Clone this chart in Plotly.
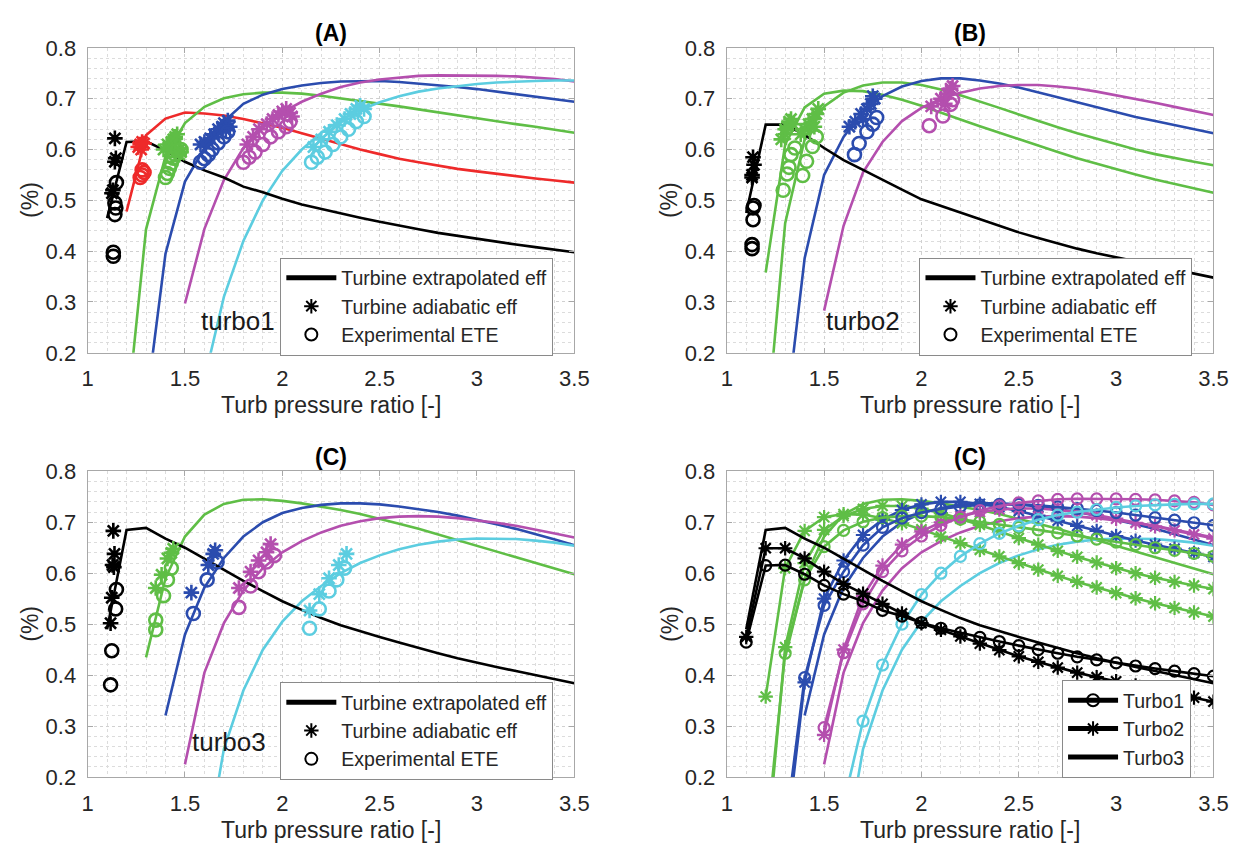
import plotly.graph_objects as go

FONT = "Liberation Sans, Arial, Helvetica, sans-serif"
TXT = "#262626"

# Pressure-ratio grid on which the efficiency curves are sampled
PR = [1.1, 1.2, 1.3, 1.4, 1.5, 1.6, 1.7, 1.8, 1.9, 2.0, 2.1, 2.2, 2.3,
      2.4, 2.5, 2.6, 2.7, 2.8, 2.9, 3.0, 3.1, 3.2, 3.3, 3.4, 3.5]

# ---- Turbo1 efficiency curves (each list ends at PR = 3.5) ----
t1_black = [0.465, 0.615, 0.616, 0.598, 0.576, 0.559, 0.545, 0.527, 0.516, 0.503,
            0.492, 0.483, 0.474, 0.466, 0.458, 0.450, 0.443, 0.436, 0.430, 0.424,
            0.418, 0.413, 0.408, 0.403, 0.398]
t1_red = [0.478, 0.628, 0.661, 0.673, 0.671, 0.667, 0.660, 0.652, 0.643, 0.632,
          0.621, 0.610, 0.600, 0.591, 0.582, 0.575, 0.568, 0.562, 0.557, 0.552,
          0.547, 0.543, 0.539, 0.535]
t1_green = [0.069, 0.443, 0.587, 0.652, 0.684, 0.701, 0.709, 0.712, 0.712, 0.710,
            0.706, 0.701, 0.696, 0.690, 0.685, 0.679, 0.673, 0.667, 0.661, 0.656,
            0.650, 0.645, 0.639, 0.633]
t1_blue = [0.094, 0.395, 0.537, 0.603, 0.655, 0.690, 0.708, 0.719, 0.726, 0.731,
           0.734, 0.735, 0.735, 0.733, 0.730, 0.727, 0.723, 0.719, 0.714, 0.709,
           0.704, 0.699, 0.694]
t1_magenta = [0.297, 0.444, 0.540, 0.603, 0.644, 0.673, 0.694, 0.710, 0.723, 0.732,
              0.738, 0.742, 0.745, 0.746, 0.746, 0.746, 0.745, 0.744, 0.742, 0.739,
              0.734]
t1_cyan = [0.148, 0.310, 0.420, 0.500, 0.558, 0.600, 0.633, 0.658, 0.678, 0.693,
           0.705, 0.714, 0.720, 0.725, 0.729, 0.732, 0.734, 0.735, 0.736, 0.736]

# ---- Turbo2 efficiency curves ----
t2_black = [0.475, 0.649, 0.649, 0.629, 0.603, 0.579, 0.560, 0.540, 0.521, 0.502,
            0.489, 0.476, 0.462, 0.449, 0.437, 0.426, 0.415, 0.405, 0.396, 0.388,
            0.380, 0.372, 0.364, 0.356, 0.348]
t2_green_a = [0.358, 0.610, 0.683, 0.710, 0.716, 0.715, 0.708, 0.698, 0.686, 0.672,
              0.659, 0.646, 0.633, 0.620, 0.607, 0.595, 0.583, 0.572, 0.561, 0.551,
              0.541, 0.532, 0.523, 0.515]
t2_green_b = [0.030, 0.455, 0.620, 0.685, 0.712, 0.726, 0.732, 0.732, 0.727, 0.718,
              0.707, 0.695, 0.682, 0.669, 0.656, 0.644, 0.632, 0.621, 0.610, 0.600,
              0.591, 0.583, 0.576, 0.569]
t2_blue = [0.060, 0.386, 0.550, 0.625, 0.675, 0.705, 0.724, 0.735, 0.740, 0.740,
           0.736, 0.730, 0.722, 0.713, 0.703, 0.693, 0.683, 0.673, 0.664, 0.656,
           0.648, 0.640, 0.632]
t2_magenta = [0.283, 0.450, 0.555, 0.615, 0.656, 0.682, 0.700, 0.712, 0.720, 0.725,
              0.727, 0.727, 0.724, 0.720, 0.714, 0.707, 0.699, 0.692, 0.684, 0.676,
              0.668]

# ---- Turbo3 efficiency curves ----
t3_black = [0.490, 0.685, 0.689, 0.668, 0.650, 0.628, 0.606, 0.585, 0.565, 0.545,
            0.528, 0.512, 0.498, 0.486, 0.475, 0.464, 0.453, 0.443, 0.433, 0.424,
            0.416, 0.408, 0.400, 0.392, 0.384]
t3_green = [0.435, 0.590, 0.672, 0.715, 0.736, 0.744, 0.745, 0.742, 0.737, 0.731,
            0.724, 0.716, 0.707, 0.697, 0.687, 0.676, 0.665, 0.654, 0.642, 0.631,
            0.620, 0.609, 0.598]
t3_blue = [0.321, 0.480, 0.572, 0.630, 0.672, 0.700, 0.718, 0.728, 0.734, 0.737,
           0.737, 0.735, 0.731, 0.726, 0.720, 0.713, 0.705, 0.696, 0.687, 0.677,
           0.666, 0.655]
t3_magenta = [0.225, 0.405, 0.502, 0.566, 0.610, 0.641, 0.663, 0.680, 0.693, 0.702,
              0.708, 0.711, 0.712, 0.711, 0.708, 0.704, 0.699, 0.693, 0.686, 0.678,
              0.670]
t3_cyan = [0.035, 0.255, 0.370, 0.450, 0.505, 0.545, 0.575, 0.600, 0.620, 0.635,
           0.647, 0.656, 0.662, 0.666, 0.668, 0.668, 0.667, 0.664, 0.660, 0.654]

# ---- Measured points: turbine adiabatic efficiency (asterisks) ----
t1_adiab_x = [1.14, 1.145, 1.14, 1.13, 1.125,
              1.26, 1.27, 1.275, 1.28, 1.29,
              1.39, 1.41, 1.42, 1.43, 1.44, 1.45, 1.46, 1.47, 1.48, 1.47,
              1.58, 1.60, 1.63, 1.65, 1.67, 1.69, 1.70, 1.72, 1.73, 1.71,
              1.82, 1.85, 1.88, 1.92, 1.95, 1.98, 2.00, 2.02, 2.04, 2.05,
              2.16, 2.20, 2.24, 2.28, 2.32, 2.35, 2.38, 2.40, 2.42]
t1_adiab_y = [0.622, 0.583, 0.576, 0.520, 0.514,
              0.605, 0.610, 0.600, 0.615, 0.612,
              0.600, 0.610, 0.598, 0.615, 0.620, 0.625, 0.630, 0.600, 0.595, 0.590,
              0.610, 0.615, 0.622, 0.630, 0.640, 0.645, 0.652, 0.657, 0.645, 0.638,
              0.610, 0.625, 0.640, 0.650, 0.660, 0.668, 0.675, 0.680, 0.672, 0.665,
              0.605, 0.620, 0.635, 0.648, 0.660, 0.670, 0.680, 0.686, 0.680]
t1_adiab_c = ["k"] * 5 + ["r"] * 5 + ["g"] * 10 + ["b"] * 10 + ["m"] * 10 + ["c"] * 9

t2_adiab_x = [1.135, 1.14, 1.13, 1.13,
              1.28, 1.30, 1.31, 1.32, 1.33, 1.34, 1.30, 1.38, 1.40, 1.42, 1.44, 1.46, 1.47, 1.45,
              1.63, 1.66, 1.69, 1.72, 1.74, 1.76, 1.75, 1.70,
              2.05, 2.10, 2.13, 2.15, 2.16, 2.12]
t2_adiab_y = [0.585, 0.570, 0.550, 0.545,
              0.620, 0.630, 0.645, 0.655, 0.660, 0.650, 0.640, 0.630, 0.640, 0.650, 0.660, 0.670, 0.680, 0.645,
              0.645, 0.655, 0.670, 0.680, 0.690, 0.700, 0.705, 0.660,
              0.685, 0.700, 0.710, 0.720, 0.725, 0.690]
t2_adiab_c = ["k"] * 4 + ["g"] * 14 + ["b"] * 8 + ["m"] * 6

t3_adiab_x = [1.132, 1.138, 1.128, 1.135, 1.124, 1.118,
              1.35, 1.38, 1.41, 1.43, 1.44,
              1.533, 1.62, 1.645, 1.655,
              1.777, 1.837, 1.878, 1.919, 1.94,
              2.14, 2.19, 2.24, 2.29, 2.33]
t3_adiab_y = [0.683, 0.638, 0.616, 0.612, 0.552, 0.502,
              0.571, 0.597, 0.629, 0.640, 0.648,
              0.562, 0.616, 0.638, 0.645,
              0.571, 0.603, 0.625, 0.641, 0.657,
              0.527, 0.559, 0.590, 0.616, 0.638]
t3_adiab_c = ["k"] * 6 + ["g"] * 5 + ["b"] * 4 + ["m"] * 5 + ["c"] * 5

# ---- Measured points: experimental ETE (circles) ----
t1_ete_x = [1.148, 1.14, 1.145, 1.14, 1.132, 1.132,
            1.28, 1.28, 1.27, 1.29,
            1.40, 1.41, 1.42, 1.43, 1.44, 1.45, 1.46, 1.48,
            1.58, 1.60, 1.62, 1.64, 1.67, 1.70, 1.72,
            1.80, 1.83, 1.86, 1.90, 1.94, 1.98, 2.02, 2.04,
            2.15, 2.18, 2.22, 2.26, 2.30, 2.34, 2.38, 2.42]
t1_ete_y = [0.535, 0.495, 0.485, 0.472, 0.398, 0.390,
            0.560, 0.550, 0.545, 0.555,
            0.545, 0.553, 0.563, 0.573, 0.583, 0.590, 0.598, 0.600,
            0.575, 0.582, 0.590, 0.600, 0.613, 0.625, 0.635,
            0.575, 0.585, 0.595, 0.610, 0.625, 0.635, 0.645, 0.655,
            0.575, 0.585, 0.595, 0.610, 0.625, 0.640, 0.655, 0.665]
t1_ete_c = ["k"] * 6 + ["r"] * 4 + ["g"] * 8 + ["b"] * 7 + ["m"] * 8 + ["c"] * 8

t2_ete_x = [1.14, 1.135, 1.135, 1.13, 1.13,
            1.29, 1.31, 1.32, 1.33, 1.35, 1.39, 1.41, 1.44, 1.46,
            1.656, 1.68, 1.72, 1.75, 1.77,
            2.04, 2.11, 2.15, 2.16]
t2_ete_y = [0.490, 0.485, 0.462, 0.413, 0.405,
            0.520, 0.552, 0.565, 0.590, 0.603, 0.549, 0.577, 0.606, 0.625,
            0.590, 0.612, 0.635, 0.650, 0.663,
            0.647, 0.666, 0.689, 0.698]
t2_ete_c = ["k"] * 5 + ["g"] * 9 + ["b"] * 5 + ["m"] * 4

t3_ete_x = [1.148, 1.144, 1.124, 1.118,
            1.35, 1.35, 1.39, 1.41, 1.43,
            1.543, 1.614, 1.665,
            1.777, 1.837, 1.878, 1.919, 1.96,
            2.14, 2.19, 2.24, 2.28, 2.32]
t3_ete_y = [0.568, 0.530, 0.448, 0.381,
            0.508, 0.489, 0.556, 0.587, 0.610,
            0.521, 0.587, 0.622,
            0.533, 0.575, 0.603, 0.622, 0.635,
            0.492, 0.530, 0.565, 0.587, 0.610]
t3_ete_c = ["k"] * 4 + ["g"] * 5 + ["b"] * 3 + ["m"] * 5 + ["c"] * 5

COLORS = {"k": "#000000", "r": "#ee2a2a", "g": "#5fbe46", "b": "#2b4cae",
          "m": "#b44fae", "c": "#5ccde0"}

# ---- Figure geometry (pixels) ----
W, H = 1257, 861
XL = (83, 578)
XR = (733, 1228)
YT = (37, 351)
YB = (473, 788)
LW = 2.6


def xdom(px):
    return [px[0] / W, px[1] / W]


def ydom(py):
    return [1 - py[1] / H, 1 - py[0] / H]


fig = go.Figure()


def curve(y, color, xa, ya, name=None, legend=None, rank=None, symbol=None):
    x = PR[-len(y):]
    kw = dict(x=x, y=y, xaxis=xa, yaxis=ya, hoverinfo="skip",
              line=dict(color=color, width=LW))
    if symbol is None:
        kw["mode"] = "lines"
    else:
        kw["mode"] = "lines+markers"
        size = 11 if symbol.startswith("circle") else 12
        kw["marker"] = dict(symbol=symbol, size=size, color=color,
                            line=dict(color=color, width=2.2))
    if name is not None:
        kw.update(name=name, legend=legend, showlegend=True, legendrank=rank)
    else:
        kw["showlegend"] = False
    fig.add_trace(go.Scatter(**kw))


def points(xs, ys, cs, symbol, xa, ya, legend, name, rank):
    # colored clusters first, black cluster carries the legend entry
    for key in ["r", "g", "b", "m", "c", "k"]:
        px = [x for x, c in zip(xs, cs) if c == key]
        py = [y for y, c in zip(ys, cs) if c == key]
        if not px:
            continue
        col = COLORS[key]
        is_k = key == "k"
        size = 13 if symbol.startswith("circle") else 13
        fig.add_trace(go.Scatter(
            x=px, y=py, xaxis=xa, yaxis=ya, mode="markers", hoverinfo="skip",
            marker=dict(symbol=symbol, size=size, color=col,
                        line=dict(color=col, width=2.6)),
            name=name if is_k else None, showlegend=is_k,
            legend=legend if is_k else None, legendrank=rank))


EXTRAP = "Turbine extrapolated eff"
ADIAB = "Turbine adiabatic eff"
ETE = "Experimental ETE"

# Panel A: turbo1
curve(t1_red, COLORS["r"], "x", "y")
curve(t1_green, COLORS["g"], "x", "y")
curve(t1_blue, COLORS["b"], "x", "y")
curve(t1_magenta, COLORS["m"], "x", "y")
curve(t1_cyan, COLORS["c"], "x", "y")
curve(t1_black, COLORS["k"], "x", "y", EXTRAP, "legend", 1)
points(t1_adiab_x, t1_adiab_y, t1_adiab_c, "asterisk-open", "x", "y", "legend", ADIAB, 2)
points(t1_ete_x, t1_ete_y, t1_ete_c, "circle-open", "x", "y", "legend", ETE, 3)

# Panel B: turbo2
curve(t2_green_a, COLORS["g"], "x2", "y2")
curve(t2_green_b, COLORS["g"], "x2", "y2")
curve(t2_blue, COLORS["b"], "x2", "y2")
curve(t2_magenta, COLORS["m"], "x2", "y2")
curve(t2_black, COLORS["k"], "x2", "y2", EXTRAP, "legend2", 1)
points(t2_adiab_x, t2_adiab_y, t2_adiab_c, "asterisk-open", "x2", "y2", "legend2", ADIAB, 2)
points(t2_ete_x, t2_ete_y, t2_ete_c, "circle-open", "x2", "y2", "legend2", ETE, 3)

# Panel C: turbo3
curve(t3_green, COLORS["g"], "x3", "y3")
curve(t3_blue, COLORS["b"], "x3", "y3")
curve(t3_magenta, COLORS["m"], "x3", "y3")
curve(t3_cyan, COLORS["c"], "x3", "y3")
curve(t3_black, COLORS["k"], "x3", "y3", EXTRAP, "legend3", 1)
points(t3_adiab_x, t3_adiab_y, t3_adiab_c, "asterisk-open", "x3", "y3", "legend3", ADIAB, 2)
points(t3_ete_x, t3_ete_y, t3_ete_c, "circle-open", "x3", "y3", "legend3", ETE, 3)

# Panel D: all three turbochargers together
for y, k in [(t3_green, "g"), (t3_blue, "b"), (t3_magenta, "m"), (t3_cyan, "c")]:
    curve(y, COLORS[k], "x4", "y4")
for y, k in [(t2_green_a, "g"), (t2_green_b, "g"), (t2_blue, "b"), (t2_magenta, "m")]:
    curve(y, COLORS[k], "x4", "y4", symbol="asterisk-open")
for y, k in [(t1_green, "g"), (t1_blue, "b"), (t1_magenta, "m"), (t1_cyan, "c")]:
    curve(y, COLORS[k], "x4", "y4", symbol="circle-open")
curve(t1_black, COLORS["k"], "x4", "y4", "Turbo1", "legend4", 1, symbol="circle-open")
curve(t2_black, COLORS["k"], "x4", "y4", "Turbo2", "legend4", 2, symbol="asterisk-open")
curve(t3_black, COLORS["k"], "x4", "y4", "Turbo3", "legend4", 3)

AXC = "#a8a8a8"
GRID = "#d0d0d0"


def xaxis(dom, anchor):
    return dict(domain=xdom(dom), anchor=anchor, range=[1, 3.5], dtick=0.5, tick0=1,
                showgrid=True, gridcolor=GRID, griddash="dot", gridwidth=1,
                minor=dict(dtick=0.1, showgrid=True, gridcolor="#dcdcdc",
                           griddash="dot", gridwidth=1),
                showline=True, linecolor=AXC, linewidth=1, mirror="ticks",
                ticks="inside", ticklen=5, tickcolor=AXC, zeroline=False,
                ticklabelstandoff=6,
                tickfont=dict(family=FONT, size=22, color=TXT))


def yaxis(dom, anchor):
    return dict(domain=ydom(dom), anchor=anchor, range=[0.2, 0.8], dtick=0.1, tick0=0.2,
                tickformat=".1f",
                showgrid=True, gridcolor=GRID, griddash="dot", gridwidth=1,
                minor=dict(dtick=0.02, showgrid=True, gridcolor="#dcdcdc",
                           griddash="dot", gridwidth=1),
                showline=True, linecolor=AXC, linewidth=1, mirror="ticks",
                ticks="inside", ticklen=5, tickcolor=AXC, zeroline=False,
                ticklabelstandoff=6,
                tickfont=dict(family=FONT, size=22, color=TXT))


def legend(xpx, ypx):
    return dict(x=xpx / W, y=1 - ypx / H, xanchor="left", yanchor="top",
                bgcolor="white", bordercolor="#8a8a8a", borderwidth=1,
                font=dict(family=FONT, size=19.5, color=TXT),
                tracegroupgap=0, itemsizing="constant", itemwidth=50)


annotations = []
panels = [("(A)", XL, YT), ("(B)", XR, YT), ("(C)", XL, YB), ("(C)", XR, YB)]
for title, xp, yp in panels:
    cx = (xp[0] + xp[1]) / 2 / W
    annotations.append(dict(text="<b>%s</b>" % title, x=cx, y=1 - (yp[0] - 15) / H,
                            xref="paper", yref="paper", showarrow=False,
                            font=dict(family=FONT, size=23, color="#000000"),
                            xanchor="center", yanchor="middle"))
    annotations.append(dict(text="Turb pressure ratio [-]", x=cx, y=1 - (yp[1] + 54) / H,
                            xref="paper", yref="paper", showarrow=False,
                            font=dict(family=FONT, size=23, color=TXT),
                            xanchor="center", yanchor="middle"))
    annotations.append(dict(text="(%)", x=(xp[0] - 58) / W, y=1 - (yp[0] + yp[1]) / 2 / H,
                            xref="paper", yref="paper", showarrow=False, textangle=-90,
                            font=dict(family=FONT, size=23, color=TXT),
                            xanchor="center", yanchor="middle"))

for label, xa, ya, xv, yv in [("turbo1", "x", "y", 1.77, 0.263),
                              ("turbo2", "x2", "y2", 1.70, 0.263),
                              ("turbo3", "x3", "y3", 1.727, 0.269)]:
    annotations.append(dict(text=label, x=xv, y=yv, xref=xa, yref=ya, showarrow=False,
                            font=dict(family=FONT, size=26, color="#1a1a1a"),
                            xanchor="center", yanchor="middle"))

fig.update_layout(
    width=W, height=H, margin=dict(l=0, r=0, t=0, b=0),
    paper_bgcolor="white", plot_bgcolor="white", showlegend=True,
    font=dict(family=FONT, color=TXT),
    xaxis=xaxis(XL, "y"), yaxis=yaxis(YT, "x"),
    xaxis2=xaxis(XR, "y2"), yaxis2=yaxis(YT, "x2"),
    xaxis3=xaxis(XL, "y3"), yaxis3=yaxis(YB, "x3"),
    xaxis4=xaxis(XR, "y4"), yaxis4=yaxis(YB, "x4"),
    legend=legend(279, 253), legend2=legend(929, 253),
    legend3=legend(279, 690), legend4=legend(1074, 688),
    annotations=annotations,
)

fig.write_html("out.html")
